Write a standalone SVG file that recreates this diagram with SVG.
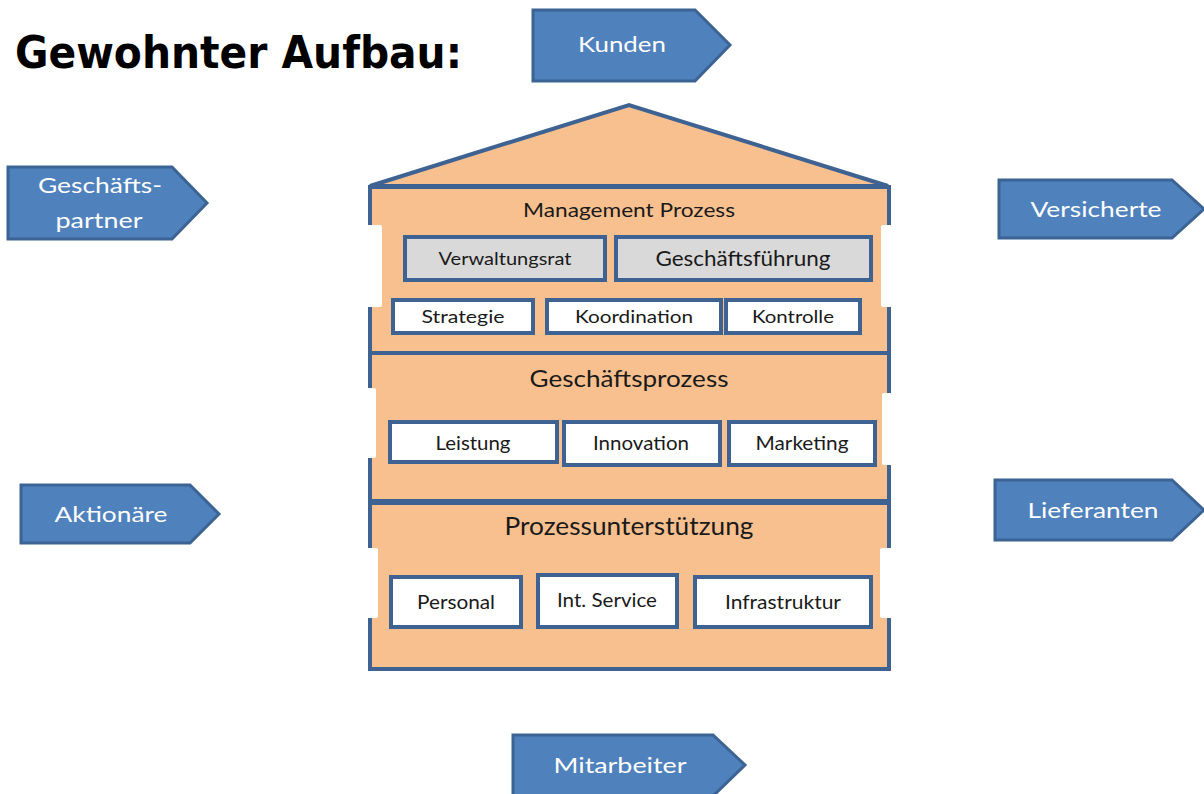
<svg xmlns="http://www.w3.org/2000/svg" width="1204" height="794" viewBox="0 0 1204 794">
<style>
.arrow{fill:#4f81bd;stroke:#3b6393;stroke-width:3;stroke-linejoin:miter}
.atxt{font-family:Lato,"Liberation Sans",sans-serif;font-size:22px;fill:#ffffff;text-anchor:middle}
.wall{fill:#f9c08f;stroke:#3e6292;stroke-width:4}
.box{fill:#ffffff;stroke:#3e6292;stroke-width:4}
.gbox{fill:#d9d9d9;stroke:#3e6292;stroke-width:4}
.btxt{font-family:Lato,"Liberation Sans",sans-serif;fill:#1a1a1a;text-anchor:middle}
.notch{fill:#ffffff}
</style>
<rect width="1204" height="794" fill="#ffffff"/>
<text x="15" y="68" font-family="'DejaVu Sans',Verdana,sans-serif" font-weight="bold" font-size="44" textLength="447" lengthAdjust="spacingAndGlyphs" fill="#000000">Gewohnter Aufbau:</text>

<g id="building">
  <polygon class="wall" points="370,186 629,105 888,186"/>
  <rect id="sec-management" class="wall" x="370" y="187" width="519" height="166"/>
  <rect id="sec-geschaeft" class="wall" x="370" y="353" width="519" height="148"/>
  <rect id="sec-support" class="wall" x="370" y="503" width="519" height="166"/>
  <rect class="notch" x="365" y="225" width="17" height="82" rx="2"/>
  <rect class="notch" x="881" y="225" width="14" height="82" rx="2"/>
  <rect class="notch" x="365" y="388" width="11" height="70" rx="2"/>
  <rect class="notch" x="882" y="393" width="13" height="72" rx="2"/>
  <rect class="notch" x="365" y="548" width="13" height="70" rx="2"/>
  <rect class="notch" x="880" y="548" width="15" height="70" rx="2"/>
  <text class="btxt" x="629" y="217" font-size="19" textLength="212" lengthAdjust="spacingAndGlyphs">Management Prozess</text>
  <text class="btxt" x="629" y="387" font-size="24" textLength="199" lengthAdjust="spacingAndGlyphs">Geschäftsprozess</text>
  <text class="btxt" x="629" y="535" font-size="25" textLength="249" lengthAdjust="spacingAndGlyphs">Prozessunterstützung</text>
</g>

<g id="verwaltungsrat"><rect class="gbox" x="405" y="237" width="200" height="43"/><text class="btxt" x="505" y="265" font-size="17" textLength="133" lengthAdjust="spacingAndGlyphs">Verwaltungsrat</text></g>
<g id="geschaeftsfuehrung"><rect class="gbox" x="616" y="237" width="255" height="43"/><text class="btxt" x="743" y="266" font-size="21" textLength="175" lengthAdjust="spacingAndGlyphs">Geschäftsführung</text></g>
<g id="strategie"><rect class="box" x="393" y="300" width="140" height="33"/><text class="btxt" x="463" y="323" font-size="18" textLength="83" lengthAdjust="spacingAndGlyphs">Strategie</text></g>
<g id="koordination"><rect class="box" x="547" y="300" width="174" height="33"/><text class="btxt" x="634" y="323" font-size="18" textLength="118" lengthAdjust="spacingAndGlyphs">Koordination</text></g>
<g id="kontrolle"><rect class="box" x="726" y="300" width="134" height="33"/><text class="btxt" x="793" y="323" font-size="18" textLength="82" lengthAdjust="spacingAndGlyphs">Kontrolle</text></g>

<g id="leistung"><rect class="box" x="390" y="422" width="167" height="40"/><text class="btxt" x="473" y="450" font-size="19" textLength="75" lengthAdjust="spacingAndGlyphs">Leistung</text></g>
<g id="innovation"><rect class="box" x="564" y="422" width="156" height="43"/><text class="btxt" x="641" y="450" font-size="19" textLength="96" lengthAdjust="spacingAndGlyphs">Innovation</text></g>
<g id="marketing"><rect class="box" x="729" y="422" width="146" height="43"/><text class="btxt" x="802" y="450" font-size="19" textLength="93" lengthAdjust="spacingAndGlyphs">Marketing</text></g>

<g id="personal"><rect class="box" x="391" y="577" width="130" height="50"/><text class="btxt" x="456" y="609" font-size="19" textLength="78" lengthAdjust="spacingAndGlyphs">Personal</text></g>
<g id="intservice"><rect class="box" x="538" y="575" width="139" height="52"/><text class="btxt" x="607" y="607" font-size="19" textLength="100" lengthAdjust="spacingAndGlyphs">Int. Service</text></g>
<g id="infrastruktur"><rect class="box" x="695" y="577" width="176" height="50"/><text class="btxt" x="783" y="609" font-size="19" textLength="116" lengthAdjust="spacingAndGlyphs">Infrastruktur</text></g>

<g id="kunden"><polygon class="arrow" points="533,10 695,10 730,45 695,81 533,81"/><text class="atxt" x="622" y="52" textLength="88" lengthAdjust="spacingAndGlyphs">Kunden</text></g>
<g id="geschaeftspartner"><polygon class="arrow" points="8,167 172,167 207,203 172,239 8,239"/><text class="atxt" x="100" y="193" textLength="124" lengthAdjust="spacingAndGlyphs">Geschäfts-</text><text class="atxt" x="99" y="228" textLength="87" lengthAdjust="spacingAndGlyphs">partner</text></g>
<g id="versicherte"><polygon class="arrow" points="999,180 1172,180 1204,209 1172,238 999,238"/><text class="atxt" x="1096" y="217" textLength="131" lengthAdjust="spacingAndGlyphs">Versicherte</text></g>
<g id="aktionaere"><polygon class="arrow" points="21,485 190,485 219,514 190,543 21,543"/><text class="atxt" x="111" y="522" textLength="113" lengthAdjust="spacingAndGlyphs">Aktionäre</text></g>
<g id="lieferanten"><polygon class="arrow" points="995,480 1172,480 1204,510 1172,540 995,540"/><text class="atxt" x="1093" y="518" textLength="131" lengthAdjust="spacingAndGlyphs">Lieferanten</text></g>
<g id="mitarbeiter"><polygon class="arrow" points="513,735 713,735 745,765 713,796 513,796"/><text class="atxt" x="620" y="773" textLength="133" lengthAdjust="spacingAndGlyphs">Mitarbeiter</text></g>

<g id="connectors"></g>
</svg>
